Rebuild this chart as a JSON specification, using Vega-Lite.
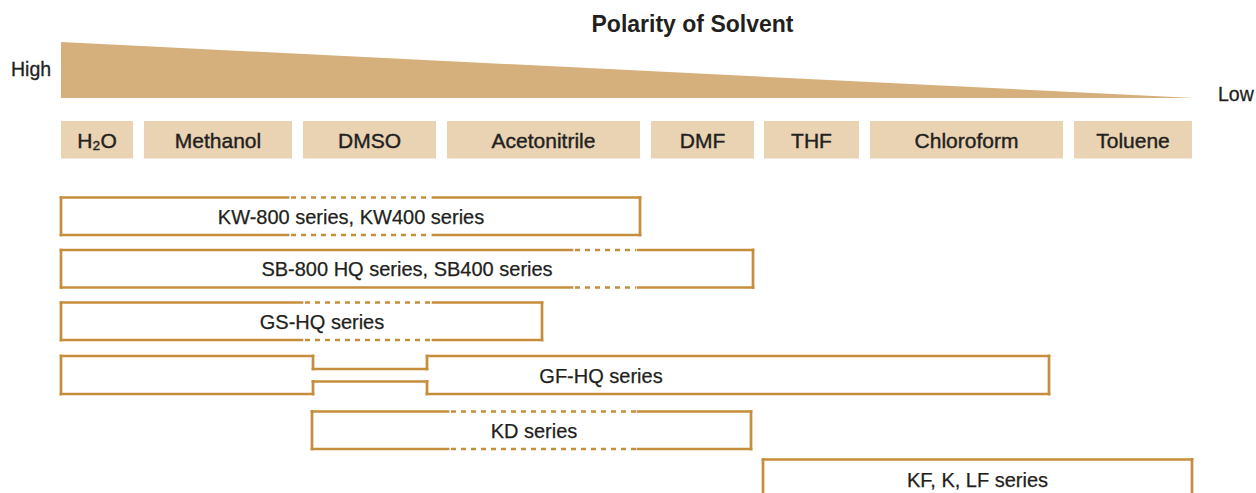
{
  "$schema": "https://vega.github.io/schema/vega-lite/v6.json",
  "width": 1256,
  "height": 493,
  "autosize": {"type": "fit", "contains": "padding"},
  "padding": 0,
  "background": "white",
  "config": {"view": {"stroke": null}, "text": {"font": "Liberation Sans", "color": "#231F20"}},
  "datasets": {
    "wedge": [
      {"x": 61, "y": 42, "y2": 98},
      {"x": 1194, "y": 98, "y2": 98}
    ],
    "solvents": [
      {"name": "H₂O", "x": 61, "x2": 133, "y": 121, "y2": 158.5, "xc": 97, "yc": 141.5},
      {"name": "Methanol", "x": 144, "x2": 292, "y": 121, "y2": 158.5, "xc": 218, "yc": 141.5},
      {"name": "DMSO", "x": 303, "x2": 436, "y": 121, "y2": 158.5, "xc": 369.5, "yc": 141.5},
      {"name": "Acetonitrile", "x": 447, "x2": 640, "y": 121, "y2": 158.5, "xc": 543.5, "yc": 141.5},
      {"name": "DMF", "x": 651, "x2": 754, "y": 121, "y2": 158.5, "xc": 702.5, "yc": 141.5},
      {"name": "THF", "x": 764, "x2": 859, "y": 121, "y2": 158.5, "xc": 811.5, "yc": 141.5},
      {"name": "Chloroform", "x": 870, "x2": 1063, "y": 121, "y2": 158.5, "xc": 966.5, "yc": 141.5},
      {"name": "Toluene", "x": 1074, "x2": 1192, "y": 121, "y2": 158.5, "xc": 1133, "yc": 141.5}
    ],
    "edges": [
      {"box": "KW", "line": "solid", "x": 61, "x2": 288, "y": 197.5, "y2": 197.5},
      {"box": "KW", "line": "dash", "x": 291, "x2": 431, "y": 197.5, "y2": 197.5},
      {"box": "KW", "line": "solid", "x": 433, "x2": 640, "y": 197.5, "y2": 197.5},
      {"box": "KW", "line": "solid", "x": 61, "x2": 288, "y": 235, "y2": 235},
      {"box": "KW", "line": "dash", "x": 291, "x2": 431, "y": 235, "y2": 235},
      {"box": "KW", "line": "solid", "x": 433, "x2": 640, "y": 235, "y2": 235},
      {"box": "KW", "line": "solid", "x": 61, "x2": 61, "y": 197.5, "y2": 235},
      {"box": "KW", "line": "solid", "x": 640, "x2": 640, "y": 197.5, "y2": 235},

      {"box": "SB", "line": "solid", "x": 61, "x2": 572, "y": 250, "y2": 250},
      {"box": "SB", "line": "dash", "x": 575, "x2": 636, "y": 250, "y2": 250},
      {"box": "SB", "line": "solid", "x": 638, "x2": 753, "y": 250, "y2": 250},
      {"box": "SB", "line": "solid", "x": 61, "x2": 572, "y": 287.5, "y2": 287.5},
      {"box": "SB", "line": "dash", "x": 575, "x2": 636, "y": 287.5, "y2": 287.5},
      {"box": "SB", "line": "solid", "x": 638, "x2": 753, "y": 287.5, "y2": 287.5},
      {"box": "SB", "line": "solid", "x": 61, "x2": 61, "y": 250, "y2": 287.5},
      {"box": "SB", "line": "solid", "x": 753, "x2": 753, "y": 250, "y2": 287.5},

      {"box": "GS", "line": "solid", "x": 61, "x2": 302, "y": 302.5, "y2": 302.5},
      {"box": "GS", "line": "dash", "x": 305, "x2": 431, "y": 302.5, "y2": 302.5},
      {"box": "GS", "line": "solid", "x": 433, "x2": 542, "y": 302.5, "y2": 302.5},
      {"box": "GS", "line": "solid", "x": 61, "x2": 302, "y": 340, "y2": 340},
      {"box": "GS", "line": "dash", "x": 305, "x2": 431, "y": 340, "y2": 340},
      {"box": "GS", "line": "solid", "x": 433, "x2": 542, "y": 340, "y2": 340},
      {"box": "GS", "line": "solid", "x": 61, "x2": 61, "y": 302.5, "y2": 340},
      {"box": "GS", "line": "solid", "x": 542, "x2": 542, "y": 302.5, "y2": 340},

      {"box": "GF", "line": "solid", "x": 61, "x2": 313, "y": 356, "y2": 356},
      {"box": "GF", "line": "solid", "x": 313, "x2": 313, "y": 356, "y2": 369},
      {"box": "GF", "line": "solid", "x": 313, "x2": 427, "y": 369, "y2": 369},
      {"box": "GF", "line": "solid", "x": 427, "x2": 427, "y": 369, "y2": 356},
      {"box": "GF", "line": "solid", "x": 427, "x2": 1049, "y": 356, "y2": 356},
      {"box": "GF", "line": "solid", "x": 1049, "x2": 1049, "y": 356, "y2": 394},
      {"box": "GF", "line": "solid", "x": 427, "x2": 1049, "y": 394, "y2": 394},
      {"box": "GF", "line": "solid", "x": 427, "x2": 427, "y": 394, "y2": 381.5},
      {"box": "GF", "line": "solid", "x": 313, "x2": 427, "y": 381.5, "y2": 381.5},
      {"box": "GF", "line": "solid", "x": 313, "x2": 313, "y": 381.5, "y2": 394},
      {"box": "GF", "line": "solid", "x": 61, "x2": 313, "y": 394, "y2": 394},
      {"box": "GF", "line": "solid", "x": 61, "x2": 61, "y": 356, "y2": 394},

      {"box": "KD", "line": "solid", "x": 312, "x2": 448, "y": 411.5, "y2": 411.5},
      {"box": "KD", "line": "dash", "x": 451, "x2": 636, "y": 411.5, "y2": 411.5},
      {"box": "KD", "line": "solid", "x": 638, "x2": 751, "y": 411.5, "y2": 411.5},
      {"box": "KD", "line": "solid", "x": 312, "x2": 448, "y": 449, "y2": 449},
      {"box": "KD", "line": "dash", "x": 451, "x2": 636, "y": 449, "y2": 449},
      {"box": "KD", "line": "solid", "x": 638, "x2": 751, "y": 449, "y2": 449},
      {"box": "KD", "line": "solid", "x": 312, "x2": 312, "y": 411.5, "y2": 449},
      {"box": "KD", "line": "solid", "x": 751, "x2": 751, "y": 411.5, "y2": 449},

      {"box": "KF", "line": "solid", "x": 763, "x2": 1192, "y": 459.5, "y2": 459.5},
      {"box": "KF", "line": "solid", "x": 763, "x2": 763, "y": 459.5, "y2": 500},
      {"box": "KF", "line": "solid", "x": 1192, "x2": 1192, "y": 459.5, "y2": 500}
    ],
    "labels": [
      {"text": "KW-800 series, KW400 series", "x": 351, "y": 217.5},
      {"text": "SB-800 HQ series, SB400 series", "x": 407, "y": 270},
      {"text": "GS-HQ series", "x": 322, "y": 322.5},
      {"text": "GF-HQ series", "x": 601, "y": 376.5},
      {"text": "KD series", "x": 534, "y": 432},
      {"text": "KF, K, LF series", "x": 977.5, "y": 480.5}
    ],
    "side": [
      {"text": "High", "x": 11, "y": 69.5},
      {"text": "Low", "x": 1218, "y": 94.5}
    ],
    "title": [
      {"text": "Polarity of Solvent", "x": 692.5, "y": 24.5}
    ]
  },
  "encoding": {
    "x": {"field": "x", "type": "quantitative", "scale": {"domain": [0, 1256], "nice": false, "zero": false}, "axis": null},
    "y": {"field": "y", "type": "quantitative", "scale": {"domain": [0, 493], "nice": false, "zero": false, "reverse": true}, "axis": null}
  },
  "layer": [
    {
      "data": {"name": "title"},
      "mark": {"type": "text", "fontSize": 23, "fontWeight": "bold", "align": "center", "baseline": "middle"},
      "encoding": {"text": {"field": "text"}}
    },
    {
      "data": {"name": "wedge"},
      "mark": {"type": "area", "color": "#D5B07C", "opacity": 1},
      "encoding": {"y2": {"field": "y2"}}
    },
    {
      "data": {"name": "side"},
      "mark": {"type": "text", "fontSize": 19.5, "align": "left", "baseline": "middle", "stroke": "#231F20", "strokeWidth": 0.3},
      "encoding": {"text": {"field": "text"}}
    },
    {
      "data": {"name": "solvents"},
      "mark": {"type": "rect", "color": "#E9D3B3"},
      "encoding": {"x2": {"field": "x2"}, "y2": {"field": "y2"}}
    },
    {
      "data": {"name": "solvents"},
      "mark": {"type": "text", "fontSize": 21, "align": "center", "baseline": "middle", "stroke": "#231F20", "strokeWidth": 0.4},
      "encoding": {
        "x": {"field": "xc", "type": "quantitative"},
        "y": {"field": "yc", "type": "quantitative"},
        "text": {"field": "name"}
      }
    },
    {
      "data": {"name": "edges"},
      "transform": [{"filter": "datum.line === 'solid'"}],
      "mark": {"type": "rule", "color": "#C68E3C", "strokeWidth": 2.7, "strokeCap": "square", "clip": true},
      "encoding": {"x2": {"field": "x2"}, "y2": {"field": "y2"}}
    },
    {
      "data": {"name": "edges"},
      "transform": [{"filter": "datum.line === 'dash'"}],
      "mark": {"type": "rule", "color": "#C68E3C", "strokeWidth": 2.7, "strokeCap": "butt", "strokeDash": [5, 5]},
      "encoding": {"x2": {"field": "x2"}, "y2": {"field": "y2"}}
    },
    {
      "data": {"name": "labels"},
      "mark": {"type": "text", "fontSize": 20, "align": "center", "baseline": "middle", "stroke": "#231F20", "strokeWidth": 0.25},
      "encoding": {"text": {"field": "text"}}
    }
  ]
}
